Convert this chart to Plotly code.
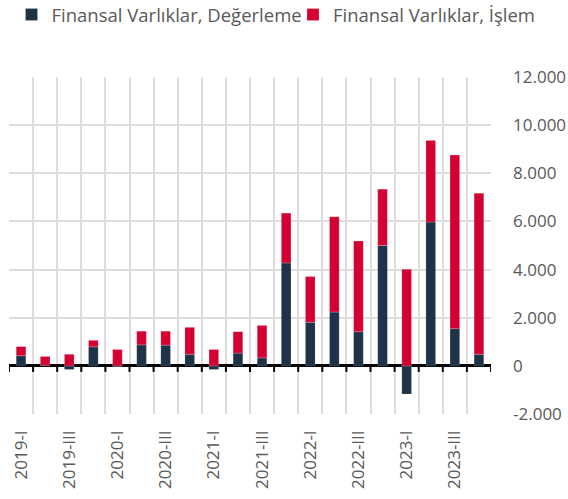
import plotly.graph_objects as go

categories = ["2019-I", "2019-II", "2019-III", "2019-IV",
              "2020-I", "2020-II", "2020-III", "2020-IV",
              "2021-I", "2021-II", "2021-III", "2021-IV",
              "2022-I", "2022-II", "2022-III", "2022-IV",
              "2023-I", "2023-II", "2023-III", "2023-IV"]

degerleme = [420, 20, -150, 790, -30, 870, 860, 480, -150, 530,
             330, 4275, 1810, 2235, 1420, 5005, -1170, 5975, 1545, 480]
islem = [380, 370, 480, 270, 680, 570, 580, 1120, 680, 890,
         1350, 2070, 1900, 3955, 3770, 2335, 4015, 3390, 7215, 6695]

x_tick_text = [c if i % 2 == 0 else "" for i, c in enumerate(categories)]
y_tick_vals = [-2000, 0, 2000, 4000, 6000, 8000, 10000, 12000]
y_tick_text = ["-2.000", "0", "2.000", "4.000", "6.000", "8.000", "10.000", "12.000"]

NAVY = "#1e3248"
RED = "#d40032"
W, H = 568, 499

fig = go.Figure()
fig.add_trace(go.Bar(
    x=categories, y=degerleme, name="Finansal Varlıklar, Değerleme",
    marker=dict(color=NAVY, line=dict(color="rgba(255,255,255,0.25)", width=0.6)),
    legend="legend",
))
fig.add_trace(go.Bar(
    x=categories, y=islem, name="Finansal Varlıklar, İşlem",
    marker=dict(color=RED, line=dict(color="rgba(255,255,255,0.35)", width=0.6)),
    legend="legend2",
))

# small black tick marks below the zero line at each category boundary
shapes = []
for k in range(len(categories) + 1):
    shapes.append(dict(type="line", xref="x", yref="y",
                       x0=k - 0.5, x1=k - 0.5, y0=0, y1=-250,
                       line=dict(color="#000000", width=2)))

legend_common = dict(orientation="h", xref="container", yref="container",
                     xanchor="left", y=1 - 15 / H, yanchor="middle",
                     font=dict(size=18.5, color="#595959"), itemwidth=30,
                     bgcolor="rgba(0,0,0,0)")

fig.update_layout(
    width=W, height=H,
    margin=dict(l=9, r=77, t=77, b=85, autoexpand=False),
    paper_bgcolor="white", plot_bgcolor="white",
    barmode="relative", bargap=0.6,
    font=dict(family="Open Sans", size=17, color="#595959"),
    showlegend=True,
    legend=dict(x=11.5 / W, **legend_common),
    legend2=dict(x=293 / W, **legend_common),
    shapes=shapes,
    xaxis=dict(type="category", tickmode="array", tickvals=categories,
               ticktext=x_tick_text, tickangle=-90, tickson="boundaries",
               showgrid=True, gridcolor="#dddddd", gridwidth=1.5,
               ticks="", showline=False, zeroline=False, automargin=False,
               range=[-0.5, len(categories) - 0.5], ticklabelstandoff=12),
    yaxis=dict(side="right", range=[-2000, 12000], tickmode="array",
               tickvals=y_tick_vals, ticktext=y_tick_text,
               showgrid=True, gridcolor="#dddddd", gridwidth=1.5,
               zeroline=True, zerolinecolor="#000000", zerolinewidth=2.5,
               ticks="", showline=False, automargin=False, ticklabelstandoff=21),
)

fig.write_html("out.html",
               config={"displayModeBar": False},
               post_script="document.body.style.margin='0';document.body.style.overflow='hidden';")
